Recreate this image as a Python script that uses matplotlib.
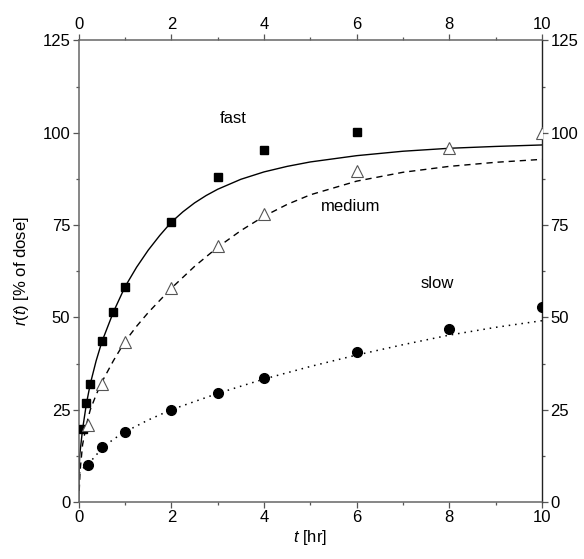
import matplotlib
matplotlib.use("Agg")
import matplotlib.pyplot as plt
from matplotlib.ticker import MultipleLocator

plt.rcParams['font.family'] = ['Liberation Sans', 'DejaVu Sans']
plt.rcParams['mathtext.fontset'] = 'custom'
plt.rcParams['mathtext.rm'] = 'Liberation Sans'
plt.rcParams['mathtext.it'] = 'Liberation Sans:italic'

# Measured release data (% of dose vs time in hours)
t_fast = [0.083, 0.167, 0.25, 0.5, 0.75, 1, 2, 3, 4, 6]
r_fast = [19.7, 26.7, 32.0, 43.6, 51.5, 58.3, 75.9, 88.0, 95.2, 100.1]

t_medium = [0.2, 0.5, 1, 2, 3, 4, 6, 8, 10]
r_medium = [20.8, 32.0, 43.4, 57.9, 69.2, 78.0, 89.6, 95.8, 100.0]

t_slow = [0.19, 0.5, 1, 2, 3, 4, 6, 8, 10]
r_slow = [10.0, 14.8, 19.0, 24.9, 29.6, 33.7, 40.6, 46.8, 52.9]

# Fitted release profiles
fit_t_fast = [0, 0.005, 0.02, 0.083, 0.167, 0.25, 0.375, 0.5, 0.75, 1,
              1.25, 1.5, 1.75, 2, 2.25, 2.5, 2.75, 3, 3.5, 4, 4.5, 5, 6, 7,
              8, 9, 10]
fit_r_fast = [0, 6.0, 12.5, 19.7, 26.7, 32.0, 38.2, 43.4, 51.5, 58.3,
              63.6, 68.2, 72.2, 75.8, 78.6, 81.0, 83.0, 84.7, 87.4, 89.4,
              90.9, 92.1, 93.8, 95.0, 95.8, 96.3, 96.7]

fit_t_medium = [0.01, 0.03, 0.083, 0.167, 0.25, 0.375, 0.5, 0.75, 1, 1.25,
                1.5, 2, 2.5, 3, 3.5, 4, 4.5, 5, 6, 7, 8, 9, 10]
fit_r_medium = [3.0, 8.5, 15.5, 21.0, 25.0, 29.0, 32.5, 38.3, 43.5, 47.6,
                51.3, 57.9, 63.8, 69.0, 73.5, 77.4, 80.6, 83.2, 86.9, 89.3,
                90.9, 92.0, 92.8]

fit_t_slow = [0.01, 0.05, 0.1, 0.19, 0.5, 0.75, 1, 1.5, 2, 3, 4, 5, 6, 7, 8,
              9, 10]
fit_r_slow = [7.8, 8.7, 9.2, 10.0, 14.5, 17.0, 19.0, 22.2, 25.0, 29.4, 33.3,
              36.7, 39.8, 42.6, 45.2, 47.3, 49.1]

x_ticks = [0, 2, 4, 6, 8, 10]
y_ticks = [0, 25, 50, 75, 100, 125]

fig = plt.figure(figsize=(5.84, 5.59), dpi=100)
ax = fig.add_axes([0.1348, 0.102, 0.7932, 0.8256])

ax.plot(fit_t_fast, fit_r_fast, '-', color='black', lw=1.0)
ax.plot(fit_t_medium, fit_r_medium, color='black', lw=1.0,
        linestyle=(0, (4.5, 3.5)))
ax.plot(fit_t_slow, fit_r_slow, color='black', lw=1.1,
        linestyle=(0, (1, 3.2)))

ax.plot(t_fast, r_fast, 's', color='black', ms=6, zorder=3)
ax.plot(t_medium, r_medium, '^', mfc='white', mec='#555555', mew=0.8,
        ms=8, zorder=3)
ax.plot(t_slow, r_slow, 'o', color='black', ms=7, zorder=3)

ax.text(3.33, 104, 'fast', fontsize=12, ha='center', va='center')
ax.text(5.86, 79.9, 'medium', fontsize=12, ha='center', va='center')
ax.text(7.73, 59.3, 'slow', fontsize=12, ha='center', va='center')

ax.set_xlim(0, 10)
ax.set_ylim(0, 125)
ax.set_xticks(x_ticks)
ax.set_yticks(y_ticks)
ax.xaxis.set_minor_locator(MultipleLocator(1))
ax.yaxis.set_minor_locator(MultipleLocator(12.5))

ax.tick_params(which='both', direction='out', top=True, right=True,
               labeltop=True, labelright=True, labelsize=12,
               color='#555555', width=0.9, pad=2)
ax.tick_params(which='major', length=4)
ax.tick_params(which='minor', length=2.5)

for side in ['left', 'bottom', 'top']:
    ax.spines[side].set_color('#666666')
    ax.spines[side].set_linewidth(1.1)
ax.spines['right'].set_color('#222222')
ax.spines['right'].set_linewidth(1.0)

ax.set_xlabel(r'$\mathit{t}$ [hr]', fontsize=12, labelpad=2)
ax.set_ylabel(r'$\mathit{r}$($\mathit{t}$) [% of dose]', fontsize=12,
              labelpad=8)

fig.savefig('out.png', dpi=100)
